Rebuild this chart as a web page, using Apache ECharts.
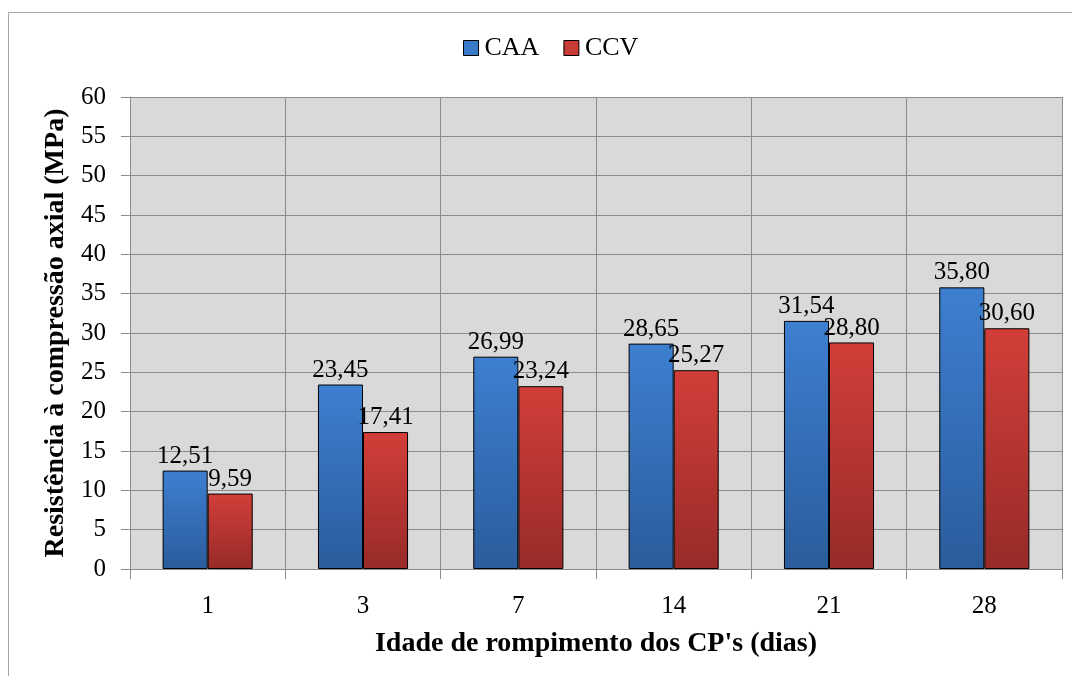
<!DOCTYPE html>
<html>
<head>
<meta charset="utf-8">
<script src="https://cdn.jsdelivr.net/npm/echarts@6/dist/echarts.min.js"></script>
<style>
  html, body { margin: 0; padding: 0; background: #ffffff; }
  #frame { position: absolute; left: 8px; top: 12px; width: 1080px; height: 680px; border: 1px solid #a6a6a6; box-sizing: border-box; }
  #chart { position: absolute; left: 0; top: 0; width: 1072px; height: 676px; }
</style>
</head>
<body>
<div id="frame"></div>
<div id="chart"></div>
<script>
// Idade de rompimento (dias)
const categories = ['1', '3', '7', '14', '21', '28'];
// Resistência à compressão axial (MPa)
const caaValues = [12.51, 23.45, 26.99, 28.65, 31.54, 35.80];
const ccvValues = [9.59, 17.41, 23.24, 25.27, 28.80, 30.60];
const yTicks = { min: 0, max: 60, interval: 5 };

const serif = 'Liberation Serif';
const fmt = v => v.toFixed(2).replace('.', ',');

function grad(top, bottom) {
  return new echarts.graphic.LinearGradient(0, 0, 0, 1, [
    { offset: 0, color: top },
    { offset: 1, color: bottom }
  ]);
}

const chart = echarts.init(document.getElementById('chart'), null, { renderer: 'canvas' });

const labelStyle = {
  show: true,
  position: 'top',
  distance: 2,
  fontFamily: serif,
  fontSize: 25,
  color: '#000000',
  formatter: p => fmt(p.value)
};

chart.setOption({
  animation: false,
  textStyle: { fontFamily: serif },
  legend: {
    top: 30,
    left: 458,
    itemWidth: 15,
    itemHeight: 15,
    itemGap: 24,
    textStyle: { fontFamily: serif, fontSize: 26, color: '#000000', padding: [0, 0, 0, 1] },
    data: [
      { name: 'CAA', icon: 'rect', itemStyle: { color: '#3a78c8', borderColor: '#000', borderWidth: 1 } },
      { name: 'CCV', icon: 'rect', itemStyle: { color: '#c83a36', borderColor: '#000', borderWidth: 1 } }
    ]
  },
  grid: {
    left: 130,
    right: 10,
    top: 97,
    bottom: 107,
    show: true,
    backgroundColor: '#d9d9d9',
    borderWidth: 0
  },
  xAxis: {
    type: 'category',
    data: categories,
    boundaryGap: true,
    name: "Idade de rompimento dos CP's (dias)",
    nameLocation: 'middle',
    nameGap: 61,
    nameTextStyle: { fontFamily: serif, fontSize: 28, fontWeight: 'bold', color: '#000' },
    axisLine: { show: true, lineStyle: { color: '#8c8c8c', width: 1 } },
    axisTick: { show: true, length: 10, lineStyle: { color: '#8c8c8c' } },
    axisLabel: { fontFamily: serif, fontSize: 25, color: '#000', margin: 25 },
    splitLine: { show: true, lineStyle: { color: '#8c8c8c', width: 1 } }
  },
  yAxis: {
    type: 'value',
    min: yTicks.min,
    max: yTicks.max,
    interval: yTicks.interval,
    name: 'Resistência à compressão axial (MPa)',
    nameLocation: 'middle',
    nameGap: 59,
    nameRotate: 90,
    nameTextStyle: { fontFamily: serif, fontSize: 28, fontWeight: 'bold', color: '#000' },
    axisLine: { show: true, lineStyle: { color: '#8c8c8c', width: 1 } },
    axisTick: { show: true, length: 9, lineStyle: { color: '#8c8c8c' } },
    axisLabel: { fontFamily: serif, fontSize: 25, color: '#000', margin: 24 },
    splitLine: { show: true, lineStyle: { color: '#8c8c8c', width: 1 } }
  },
  series: [
    {
      name: 'CAA',
      type: 'bar',
      data: caaValues,
      barGap: '0%',
      barCategoryGap: '42%',
      itemStyle: { color: grad('#3d7fd0', '#2b5c9c'), borderColor: '#000', borderWidth: 1 },
      label: labelStyle
    },
    {
      name: 'CCV',
      type: 'bar',
      data: ccvValues,
      itemStyle: { color: grad('#d23e39', '#972b28'), borderColor: '#000', borderWidth: 1 },
      label: labelStyle
    }
  ]
});
</script>
</body>
</html>
